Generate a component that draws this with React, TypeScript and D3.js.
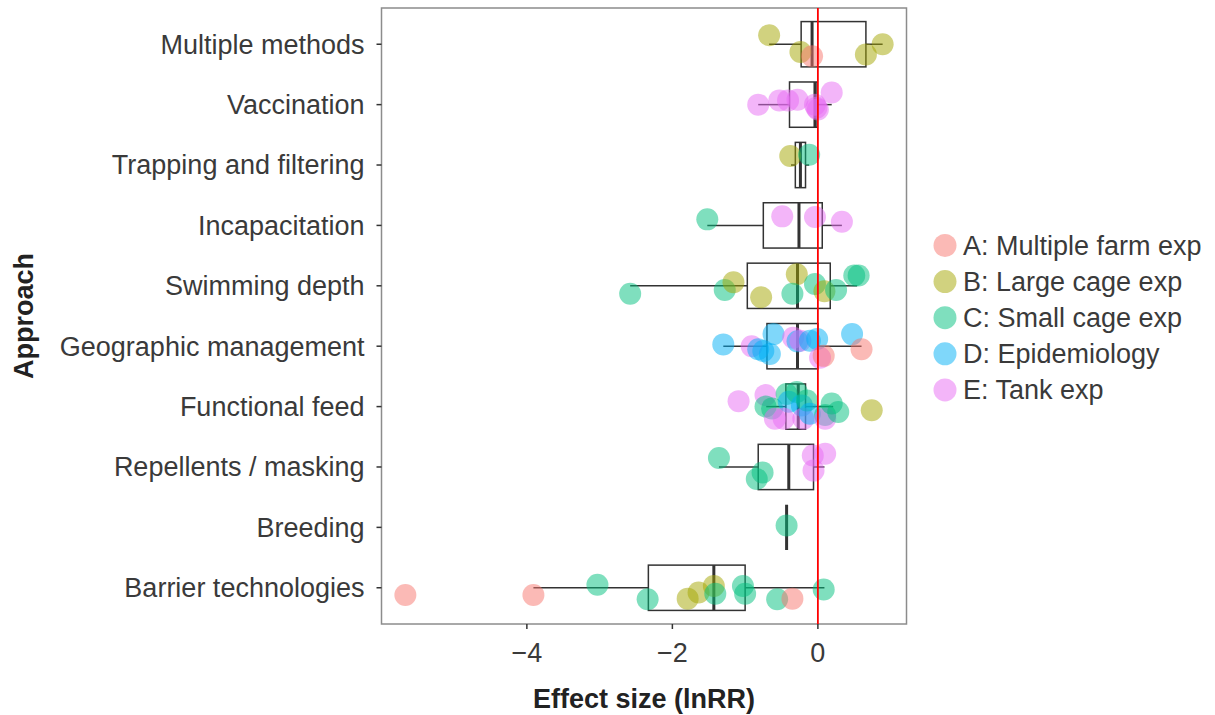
import React, { useRef, useEffect } from 'react';
import * as d3 from 'd3';

const approaches = [
  'Multiple methods',
  'Vaccination',
  'Trapping and filtering',
  'Incapacitation',
  'Swimming depth',
  'Geographic management',
  'Functional feed',
  'Repellents / masking',
  'Breeding',
  'Barrier technologies',
];

const studyTypes = ['A', 'B', 'C', 'D', 'E'];
const studyLabels = [
  'A: Multiple farm exp',
  'B: Large cage exp',
  'C: Small cage exp',
  'D: Epidemiology',
  'E: Tank exp',
];
const studyColors = ['#F8766D', '#A3A500', '#00BF7D', '#00B0F6', '#E76BF3'];

const xTicks = [-4, -2, 0];

// [approach, study type, lnRR, vertical jitter in row units]
const effects: [string, string, number, number][] = [
  ['Multiple methods', 'B', -0.67, -0.15],
  ['Multiple methods', 'B', -0.24, 0.13],
  ['Multiple methods', 'A', -0.08, 0.2],
  ['Multiple methods', 'B', 0.66, 0.17],
  ['Multiple methods', 'B', 0.89, 0],

  ['Vaccination', 'E', -0.82, 0],
  ['Vaccination', 'E', -0.53, -0.07],
  ['Vaccination', 'E', -0.41, -0.07],
  ['Vaccination', 'E', -0.28, -0.08],
  ['Vaccination', 'E', -0.04, 0],
  ['Vaccination', 'E', -0.02, 0.05],
  ['Vaccination', 'E', 0.0, 0.08],
  ['Vaccination', 'E', 0.19, -0.2],

  ['Trapping and filtering', 'B', -0.38, -0.15],
  ['Trapping and filtering', 'C', -0.12, -0.17],

  ['Incapacitation', 'C', -1.52, -0.1],
  ['Incapacitation', 'E', -0.49, -0.15],
  ['Incapacitation', 'E', -0.04, -0.14],
  ['Incapacitation', 'E', 0.33, -0.06],

  ['Swimming depth', 'C', -2.58, 0.13],
  ['Swimming depth', 'C', -1.28, 0.07],
  ['Swimming depth', 'B', -1.16, -0.06],
  ['Swimming depth', 'B', -0.78, 0.19],
  ['Swimming depth', 'B', -0.29, -0.19],
  ['Swimming depth', 'C', -0.35, 0.13],
  ['Swimming depth', 'C', -0.04, -0.03],
  ['Swimming depth', 'B', 0.09, 0.09],
  ['Swimming depth', 'C', 0.25, 0.07],
  ['Swimming depth', 'C', 0.5, -0.17],
  ['Swimming depth', 'C', 0.56, -0.17],

  ['Geographic management', 'D', -1.3, -0.03],
  ['Geographic management', 'E', -0.91, 0],
  ['Geographic management', 'D', -0.82, 0.05],
  ['Geographic management', 'D', -0.75, 0.08],
  ['Geographic management', 'D', -0.66, 0.13],
  ['Geographic management', 'D', -0.61, -0.2],
  ['Geographic management', 'E', -0.34, -0.14],
  ['Geographic management', 'D', -0.28, -0.08],
  ['Geographic management', 'E', -0.24, -0.09],
  ['Geographic management', 'D', -0.11, -0.09],
  ['Geographic management', 'D', -0.01, -0.12],
  ['Geographic management', 'E', 0.03, 0.19],
  ['Geographic management', 'A', 0.08, 0.16],
  ['Geographic management', 'D', 0.47, -0.2],
  ['Geographic management', 'A', 0.6, 0.05],

  ['Functional feed', 'E', -1.09, -0.09],
  ['Functional feed', 'E', -0.72, -0.19],
  ['Functional feed', 'C', -0.72, 0],
  ['Functional feed', 'C', -0.63, 0.03],
  ['Functional feed', 'E', -0.59, 0.2],
  ['Functional feed', 'C', -0.43, -0.21],
  ['Functional feed', 'D', -0.4, -0.08],
  ['Functional feed', 'E', -0.47, 0.2],
  ['Functional feed', 'C', -0.29, -0.24],
  ['Functional feed', 'D', -0.22, -0.02],
  ['Functional feed', 'E', -0.2, 0.2],
  ['Functional feed', 'C', -0.15, -0.1],
  ['Functional feed', 'D', -0.11, 0.12],
  ['Functional feed', 'C', 0.1, 0.14],
  ['Functional feed', 'E', 0.1, 0.2],
  ['Functional feed', 'C', 0.19, -0.05],
  ['Functional feed', 'C', 0.28, 0.09],
  ['Functional feed', 'B', 0.74, 0.06],

  ['Repellents / masking', 'C', -1.36, -0.15],
  ['Repellents / masking', 'C', -0.84, 0.2],
  ['Repellents / masking', 'C', -0.76, 0.09],
  ['Repellents / masking', 'E', -0.07, -0.19],
  ['Repellents / masking', 'E', -0.06, 0.06],
  ['Repellents / masking', 'E', 0.1, -0.22],

  ['Breeding', 'C', -0.43, -0.03],

  ['Barrier technologies', 'A', -5.67, 0.12],
  ['Barrier technologies', 'A', -3.91, 0.12],
  ['Barrier technologies', 'C', -3.03, -0.05],
  ['Barrier technologies', 'C', -2.34, 0.19],
  ['Barrier technologies', 'B', -1.79, 0.18],
  ['Barrier technologies', 'B', -1.64, 0.08],
  ['Barrier technologies', 'B', -1.43, -0.03],
  ['Barrier technologies', 'C', -1.41, 0.1],
  ['Barrier technologies', 'C', -1.03, -0.03],
  ['Barrier technologies', 'C', -1.0, 0.1],
  ['Barrier technologies', 'C', -0.56, 0.19],
  ['Barrier technologies', 'A', -0.35, 0.18],
  ['Barrier technologies', 'C', 0.08, 0.03],
];

// box stats per approach: [whisker low, q1, median, q3, whisker high]
const boxStats: [number, number, number, number, number][] = [
  [-0.67, -0.23, -0.08, 0.66, 0.89],
  [-0.82, -0.39, -0.04, -0.01, 0.19],
  [-0.37, -0.31, -0.24, -0.17, -0.12],
  [-1.52, -0.75, -0.26, 0.06, 0.33],
  [-2.58, -0.97, -0.28, 0.17, 0.54],
  [-1.3, -0.7, -0.28, 0.0, 0.6],
  [-0.71, -0.44, -0.27, -0.17, 0.21],
  [-1.36, -0.82, -0.4, -0.06, 0.09],
  [-0.43, -0.43, -0.43, -0.43, -0.43],
  [-3.91, -2.33, -1.43, -1.0, 0.09],
];

const W = 1215;
const H = 715;
const FONT = '"Liberation Sans", Arial, sans-serif';

export default function App() {
  const svgRef = useRef<SVGSVGElement | null>(null);

  useEffect(() => {
    document.body.style.margin = '0';
    if (!svgRef.current) return;
    const svg = d3.select(svgRef.current);
    svg.selectAll('*').remove();

    const panel = { left: 381.5, right: 906.5, top: 8, bottom: 624 };

    const ext = d3.extent(effects, d => d[2]) as [number, number];
    const pad = (ext[1] - ext[0]) * 0.05;
    const x = d3
      .scaleLinear()
      .domain([ext[0] - pad, ext[1] + pad])
      .range([panel.left, panel.right]);

    const y = d3
      .scalePoint<string>()
      .domain(approaches)
      .range([panel.top, panel.bottom])
      .padding(0.6);
    const step = y.step();
    const boxH = step * 0.75;

    const color = d3.scaleOrdinal<string, string>().domain(studyTypes).range(studyColors);

    // panel background + border
    svg
      .append('rect')
      .attr('x', panel.left)
      .attr('y', panel.top)
      .attr('width', panel.right - panel.left)
      .attr('height', panel.bottom - panel.top)
      .attr('fill', 'white')
      .attr('stroke', '#8c8c8c')
      .attr('stroke-width', 1.5);

    // boxplots
    const boxes = svg
      .append('g')
      .selectAll('g')
      .data(approaches)
      .join('g')
      .attr('transform', d => `translate(0,${y(d)})`);

    boxes.each(function (d, i) {
      const [lo, q1, med, q3, hi] = boxStats[i];
      const g = d3.select(this);
      const stroke = '#333333';
      g.append('line')
        .attr('x1', x(lo)).attr('x2', x(q1))
        .attr('stroke', stroke).attr('stroke-width', 1.5);
      g.append('line')
        .attr('x1', x(q3)).attr('x2', x(hi))
        .attr('stroke', stroke).attr('stroke-width', 1.5);
      g.append('rect')
        .attr('x', x(q1))
        .attr('y', -boxH / 2)
        .attr('width', Math.max(0, x(q3) - x(q1)))
        .attr('height', boxH)
        .attr('fill', 'none')
        .attr('stroke', stroke)
        .attr('stroke-width', 1.5);
      g.append('line')
        .attr('x1', x(med)).attr('x2', x(med))
        .attr('y1', -boxH / 2).attr('y2', boxH / 2)
        .attr('stroke', stroke).attr('stroke-width', 3);
    });

    // jittered points
    svg
      .append('g')
      .selectAll('circle')
      .data(effects)
      .join('circle')
      .attr('cx', d => x(d[2]))
      .attr('cy', d => (y(d[0]) as number) + d[3] * step)
      .attr('r', 11)
      .attr('fill', d => color(d[1]))
      .attr('fill-opacity', 0.5);

    // zero line
    svg
      .append('line')
      .attr('x1', x(0)).attr('x2', x(0))
      .attr('y1', panel.top).attr('y2', panel.bottom)
      .attr('stroke', '#FF0000')
      .attr('stroke-width', 1.8);

    // y axis
    const yAxis = svg.append('g');
    approaches.forEach(a => {
      const yy = y(a) as number;
      yAxis.append('line')
        .attr('x1', panel.left - 5).attr('x2', panel.left)
        .attr('y1', yy).attr('y2', yy)
        .attr('stroke', '#333').attr('stroke-width', 1.5);
      yAxis.append('text')
        .attr('x', panel.left - 17)
        .attr('y', yy)
        .attr('dy', '0.35em')
        .attr('text-anchor', 'end')
        .attr('font-family', FONT)
        .attr('font-size', 27)
        .attr('fill', '#3a3a3a')
        .text(a);
    });

    // x axis
    const xAxis = svg.append('g');
    xTicks.forEach(t => {
      xAxis.append('line')
        .attr('x1', x(t)).attr('x2', x(t))
        .attr('y1', panel.bottom).attr('y2', panel.bottom + 5)
        .attr('stroke', '#333').attr('stroke-width', 1.5);
      xAxis.append('text')
        .attr('x', x(t))
        .attr('y', 662)
        .attr('text-anchor', 'middle')
        .attr('font-family', FONT)
        .attr('font-size', 27)
        .attr('fill', '#3a3a3a')
        .text(t < 0 ? `\u2212${Math.abs(t)}` : `${t}`);
    });

    // axis titles
    svg.append('text')
      .attr('x', (panel.left + panel.right) / 2)
      .attr('y', 708)
      .attr('text-anchor', 'middle')
      .attr('font-family', FONT)
      .attr('font-size', 27)
      .attr('font-weight', 'bold')
      .attr('fill', '#222')
      .text('Effect size (lnRR)');

    svg.append('text')
      .attr('transform', `translate(33,${(panel.top + panel.bottom) / 2}) rotate(-90)`)
      .attr('text-anchor', 'middle')
      .attr('font-family', FONT)
      .attr('font-size', 27)
      .attr('font-weight', 'bold')
      .attr('fill', '#222')
      .text('Approach');

    // legend
    const legend = svg
      .append('g')
      .selectAll('g')
      .data(studyTypes)
      .join('g')
      .attr('transform', (d, i) => `translate(945,${245.5 + i * 36.1})`);
    legend.append('circle')
      .attr('r', 11.5)
      .attr('fill', d => color(d))
      .attr('fill-opacity', 0.5);
    legend.append('text')
      .attr('x', 18)
      .attr('dy', '0.35em')
      .attr('font-family', FONT)
      .attr('font-size', 27)
      .attr('fill', '#3a3a3a')
      .text((d, i) => studyLabels[i]);
  }, []);

  return <svg ref={svgRef} width={W} height={H} style={{ display: 'block' }} />;
}
